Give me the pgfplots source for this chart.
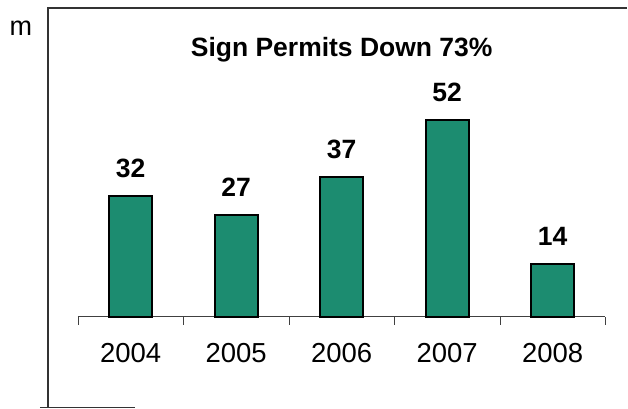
\documentclass[border=0pt]{standalone}
\usepackage{fontspec}
\setmainfont{Liberation Sans}
\usepackage{pgfplots}
\pgfplotsset{compat=1.18}
\definecolor{bargreen}{RGB}{28,140,112}
\begin{document}
\begin{tikzpicture}[x=1bp,y=1bp]
\path (0,0) rectangle (628,409);
\draw[line width=1.2bp,black!80] (48,1) -- (48,401) -- (628,401);
\draw[line width=1.2bp,black!80] (40,1) -- (135,1);
\node[font=\fontsize{27bp}{30bp}\selectfont] at (21,381) {m};
\node[font=\fontsize{26.5bp}{30bp}\selectfont\bfseries] at (342,359) {Sign Permits Down 73\%};
\begin{axis}[
  at={(78bp,92bp)}, anchor=south west,
  scale only axis, width=528bp, height=299bp,
  xmin=-0.5, xmax=4.5, ymin=0, ymax=79.1,
  axis x line=bottom, axis y line=none,
  axis line style={black!75, line width=0.8bp, -},
  xtick={0,1,2,3,4},
  xticklabels={2004,2005,2006,2007,2008},
  major tick length=0pt,
  minor xtick={-0.5,0.5,1.5,2.5,3.5,4.5},
  minor tick length=8bp,
  minor tick style={black!75, line width=0.8bp},
  tick align=outside,
  xticklabel style={font=\fontsize{27.5bp}{30bp}\selectfont, yshift=-23bp},
  /pgf/number format/assume math mode=true,
  nodes near coords,
  every node near coord/.append style={font=\fontsize{26.5bp}{30bp}\selectfont\bfseries, yshift=14bp},
  clip=false,
]
\addplot[ybar, bar width=43bp, fill=bargreen, draw=black, line width=2.2bp]
  coordinates {(0,32) (1,27) (2,37) (3,52) (4,14)};
\end{axis}
\end{tikzpicture}
\end{document}
